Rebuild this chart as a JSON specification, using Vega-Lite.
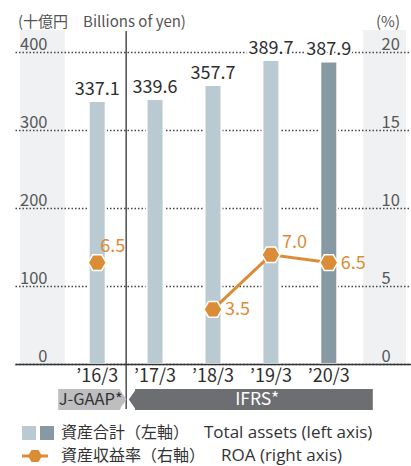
{
  "$schema": "https://vega.github.io/schema/vega-lite/v6.json",
  "width": 396,
  "height": 312,
  "autosize": {"type": "none"},
  "padding": {"left": 15, "top": 52, "right": 0, "bottom": 102},
  "background": "white",
  "config": {
    "view": {"stroke": null},
    "font": "Noto Sans CJK JP",
    "text": {"font": "Noto Sans CJK JP"}
  },
  "data": {
    "values": [
      {"year": "’16/3", "i": 0, "assets": 337.1, "roa": 6.5},
      {"year": "’17/3", "i": 1, "assets": 339.6, "roa": null},
      {"year": "’18/3", "i": 2, "assets": 357.7, "roa": 3.5},
      {"year": "’19/3", "i": 3, "assets": 389.7, "roa": 7.0},
      {"year": "’20/3", "i": 4, "assets": 387.9, "roa": 6.5}
    ]
  },
  "layer": [
    {
      "layer": [
        {
          "data": {"values": [{}]},
          "mark": {"type": "rect", "color": "#697387", "opacity": 0.1, "y2Offset": -22},
          "encoding": {
            "x": {"datum": -1.3333},
            "x2": {"datum": -0.559},
            "y": {"datum": 0},
            "y2": {"datum": 400}
          }
        },
        {
          "data": {"values": [{}]},
          "mark": {"type": "rect", "color": "#697387", "opacity": 0.1, "y2Offset": -22},
          "encoding": {
            "x": {"datum": 4.593},
            "x2": {"datum": 5.3333},
            "y": {"datum": 0},
            "y2": {"datum": 400}
          }
        },
        {
          "mark": {"type": "bar", "width": 17, "stroke": "white", "strokeWidth": 2},
          "encoding": {
            "x": {
              "field": "i",
              "type": "quantitative",
              "scale": {"domain": [-1.3333, 5.3333], "nice": false, "zero": false},
              "axis": {
                "title": null,
                "labels": false,
                "ticks": false,
                "tickSize": 0,
                "grid": false,
                "domainColor": "#333333",
                "domainWidth": 1.5,
                "zindex": 1
              }
            },
            "y": {
              "field": "assets",
              "type": "quantitative",
              "scale": {"domain": [0, 400], "nice": false},
              "axis": {
                "title": null,
                "values": [0, 100, 200, 300, 400],
                "grid": true,
                "gridDash": [1.5, 2],
                "gridColor": "#444444",
                "gridWidth": 1.3,
                "domain": false,
                "ticks": false,
                "tickSize": 0,
                "labelAlign": "right",
                "labelPadding": -32,
                "labelBaseline": "alphabetic",
                "labelOffset": -3,
                "labelFontSize": 16.5,
                "labelColor": "#555555",
                "labelFont": "Noto Sans CJK JP"
              }
            },
            "color": {
              "condition": {"test": "datum.i == 4", "value": "#879AA4"},
              "value": "#BACAD2"
            }
          }
        },
        {
          "mark": {"type": "text", "baseline": "alphabetic", "dy": -6, "fontSize": 18, "color": "white", "stroke": "white", "strokeWidth": 4},
          "encoding": {
            "x": {"field": "i", "type": "quantitative"},
            "y": {"field": "assets", "type": "quantitative"},
            "text": {"field": "assets", "type": "quantitative", "format": ".1f"},
            "fontWeight": {"condition": {"test": "datum.i == 4", "value": "bold"}, "value": "normal"}
          }
        },
        {
          "mark": {"type": "text", "baseline": "alphabetic", "dy": -6, "fontSize": 18, "color": "#2E2E2E"},
          "encoding": {
            "x": {"field": "i", "type": "quantitative"},
            "y": {"field": "assets", "type": "quantitative"},
            "text": {"field": "assets", "type": "quantitative", "format": ".1f"},
            "fontWeight": {"condition": {"test": "datum.i == 4", "value": "bold"}, "value": "normal"}
          }
        },
        {
          "mark": {"type": "text", "baseline": "middle", "yOffset": 13, "fontSize": 18, "color": "#2E2E2E"},
          "encoding": {
            "x": {"field": "i", "type": "quantitative"},
            "y": {"datum": 0},
            "text": {"field": "year"}
          }
        },
        {
          "data": {"values": [{}]},
          "mark": {"type": "rule", "color": "#222222", "strokeWidth": 1.2, "yOffset": 45, "y2Offset": -21},
          "encoding": {
            "x": {"datum": 0.5},
            "y": {"datum": 0},
            "y2": {"datum": 400}
          }
        },
        {
          "data": {"values": [{}]},
          "mark": {"type": "rect", "color": "#BEBEC0", "xOffset": -39, "x2Offset": 23, "yOffset": 25, "y2Offset": 46},
          "encoding": {
            "x": {"datum": 0},
            "x2": {"datum": 0},
            "y": {"datum": 0},
            "y2": {"datum": 0}
          }
        },
        {
          "data": {"values": [{}]},
          "mark": {"type": "point", "filled": true, "opacity": 1, "color": "#BEBEC0", "size": 441, "shape": "M-0.1,-1L0.6,0L-0.1,1Z", "xOffset": 23, "yOffset": 35.5},
          "encoding": {
            "x": {"datum": 0},
            "y": {"datum": 0}
          }
        },
        {
          "data": {"values": [{}]},
          "mark": {"type": "text", "text": "J-GAAP*", "fontSize": 16.5, "color": "#333333", "baseline": "middle", "align": "center", "xOffset": -6.5, "yOffset": 36},
          "encoding": {
            "x": {"datum": 0},
            "y": {"datum": 0}
          }
        },
        {
          "data": {"values": [{}]},
          "mark": {"type": "rect", "color": "#6D6E71", "xOffset": -20, "x2Offset": 44, "yOffset": 25, "y2Offset": 46},
          "encoding": {
            "x": {"datum": 1},
            "x2": {"datum": 4},
            "y": {"datum": 0},
            "y2": {"datum": 0}
          }
        },
        {
          "data": {"values": [{}]},
          "mark": {"type": "point", "filled": true, "opacity": 1, "color": "#6D6E71", "size": 441, "shape": "M0.1,-1L-0.6,0L0.1,1Z", "xOffset": -20, "yOffset": 35.5},
          "encoding": {
            "x": {"datum": 1},
            "y": {"datum": 0}
          }
        },
        {
          "data": {"values": [{}]},
          "mark": {"type": "text", "text": "IFRS*", "fontSize": 17.5, "color": "white", "baseline": "middle", "align": "center", "xOffset": 102, "yOffset": 36},
          "encoding": {
            "x": {"datum": 1},
            "y": {"datum": 0}
          }
        },
        {
          "data": {"values": [{}]},
          "mark": {"type": "point", "shape": "square", "filled": true, "opacity": 1, "size": 196, "color": "#BACAD2", "xOffset": 9, "yOffset": 69},
          "encoding": {
            "x": {"datum": -1.3333},
            "y": {"datum": 0}
          }
        },
        {
          "data": {"values": [{}]},
          "mark": {"type": "point", "shape": "square", "filled": true, "opacity": 1, "size": 196, "color": "#879AA4", "xOffset": 27, "yOffset": 69},
          "encoding": {
            "x": {"datum": -1.3333},
            "y": {"datum": 0}
          }
        },
        {
          "data": {"values": [{}]},
          "mark": {"type": "text", "text": "資産合計（左軸）", "fontSize": 16, "color": "#333333", "align": "left", "baseline": "middle", "xOffset": 41, "yOffset": 69},
          "encoding": {
            "x": {"datum": -1.3333},
            "y": {"datum": 0}
          }
        },
        {
          "data": {"values": [{}]},
          "mark": {"type": "text", "text": "Total assets (left axis)", "font": "Open Sans", "fontSize": 17, "color": "#333333", "align": "left", "baseline": "middle", "xOffset": 184, "yOffset": 69},
          "encoding": {
            "x": {"datum": -1.3333},
            "y": {"datum": 0}
          }
        },
        {
          "data": {"values": [{}]},
          "mark": {"type": "rule", "color": "#DB8C37", "strokeWidth": 3, "xOffset": 2, "x2Offset": 28, "yOffset": 92},
          "encoding": {
            "x": {"datum": -1.3333},
            "x2": {"datum": -1.3333},
            "y": {"datum": 0}
          }
        },
        {
          "data": {"values": [{}]},
          "mark": {"type": "point", "filled": true, "opacity": 1, "size": 196, "color": "#DB8C37", "shape": "M-1,0L-0.5,-0.866L0.5,-0.866L1,0L0.5,0.866L-0.5,0.866Z", "xOffset": 15, "yOffset": 92},
          "encoding": {
            "x": {"datum": -1.3333},
            "y": {"datum": 0}
          }
        },
        {
          "data": {"values": [{}]},
          "mark": {"type": "text", "text": "資産収益率（右軸）", "fontSize": 16, "color": "#333333", "align": "left", "baseline": "middle", "xOffset": 41, "yOffset": 92},
          "encoding": {
            "x": {"datum": -1.3333},
            "y": {"datum": 0}
          }
        },
        {
          "data": {"values": [{}]},
          "mark": {"type": "text", "text": "ROA (right axis)", "font": "Open Sans", "fontSize": 17, "color": "#333333", "align": "left", "baseline": "middle", "xOffset": 201, "yOffset": 92},
          "encoding": {
            "x": {"datum": -1.3333},
            "y": {"datum": 0}
          }
        },
        {
          "data": {"values": [{}]},
          "mark": {"type": "text", "text": "(十億円　Billions of yen)", "fontSize": 15, "color": "#555555", "align": "left", "baseline": "alphabetic", "xOffset": -2, "yOffset": -25},
          "encoding": {
            "x": {"datum": -1.3333},
            "y": {"datum": 400}
          }
        },
        {
          "data": {"values": [{}]},
          "mark": {"type": "text", "text": "(%)", "fontSize": 15, "color": "#555555", "align": "right", "baseline": "alphabetic", "xOffset": -6, "yOffset": -25},
          "encoding": {
            "x": {"datum": 5.3333},
            "y": {"datum": 400}
          }
        }
      ]
    },
    {
      "layer": [
        {
          "transform": [{"filter": "datum.i >= 2"}],
          "mark": {"type": "line", "color": "#DB8C37", "strokeWidth": 3},
          "encoding": {
            "x": {"field": "i", "type": "quantitative"},
            "y": {
              "field": "roa",
              "type": "quantitative",
              "scale": {"domain": [0, 20], "nice": false},
              "axis": {
                "orient": "right",
                "title": null,
                "values": [0, 5, 10, 15, 20],
                "grid": false,
                "domain": false,
                "ticks": false,
                "tickSize": 0,
                "labelAlign": "left",
                "labelPadding": -30,
                "labelBaseline": "alphabetic",
                "labelOffset": -3,
                "labelFontSize": 16.5,
                "labelColor": "#555555",
                "labelFont": "Noto Sans CJK JP"
              }
            }
          }
        },
        {
          "transform": [{"filter": "datum.roa != null"}],
          "mark": {"type": "point", "filled": true, "opacity": 1, "size": 324, "color": "#DB8C37", "stroke": "white", "strokeWidth": 1.5, "shape": "M-1,0L-0.5,-0.866L0.5,-0.866L1,0L0.5,0.866L-0.5,0.866Z"},
          "encoding": {
            "x": {"field": "i", "type": "quantitative"},
            "y": {"field": "roa", "type": "quantitative"}
          }
        },
        {
          "transform": [{"filter": "datum.i == 0"}],
          "mark": {"type": "text", "align": "left", "baseline": "middle", "dx": 3, "dy": -16, "fontSize": 18, "color": "#DB8C37"},
          "encoding": {
            "x": {"field": "i", "type": "quantitative"},
            "y": {"field": "roa", "type": "quantitative"},
            "text": {"field": "roa", "type": "quantitative", "format": ".1f"}
          }
        },
        {
          "transform": [{"filter": "datum.i == 3"}],
          "mark": {"type": "text", "align": "left", "baseline": "middle", "dx": 11, "dy": -12, "fontSize": 18, "color": "#DB8C37"},
          "encoding": {
            "x": {"field": "i", "type": "quantitative"},
            "y": {"field": "roa", "type": "quantitative"},
            "text": {"field": "roa", "type": "quantitative", "format": ".1f"}
          }
        },
        {
          "transform": [{"filter": "datum.i == 2 || datum.i == 4"}],
          "mark": {"type": "text", "align": "left", "baseline": "middle", "dx": 12, "dy": 1, "fontSize": 18, "color": "#DB8C37"},
          "encoding": {
            "x": {"field": "i", "type": "quantitative"},
            "y": {"field": "roa", "type": "quantitative"},
            "text": {"field": "roa", "type": "quantitative", "format": ".1f"},
            "fontWeight": {"condition": {"test": "datum.i == 4", "value": "bold"}, "value": "normal"}
          }
        }
      ]
    }
  ],
  "resolve": {"scale": {"y": "independent"}}
}
